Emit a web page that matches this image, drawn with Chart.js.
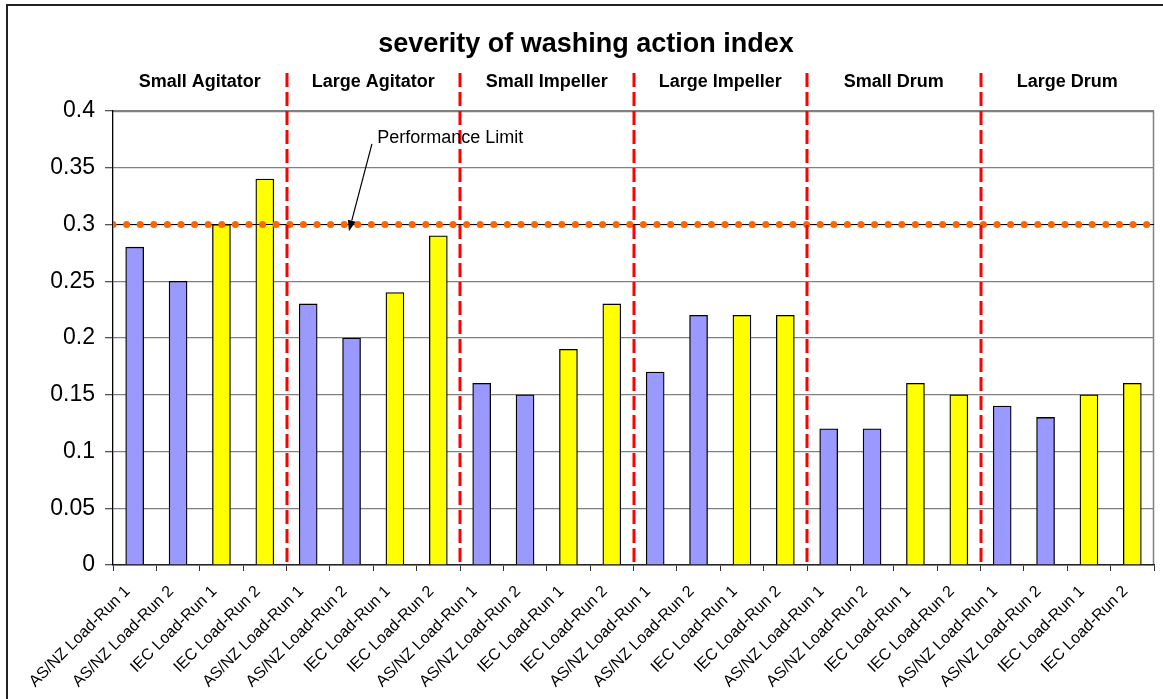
<!DOCTYPE html>
<html>
<head>
<meta charset="utf-8">
<script src="https://cdn.jsdelivr.net/npm/chart.js@4/dist/chart.umd.min.js"></script>
<style>
  html, body { margin: 0; padding: 0; background: #ffffff; }
  #wrap { position: relative; width: 1163px; height: 699px; }
</style>
</head>
<body>
<div id="wrap"><canvas id="c" width="1163" height="699"></canvas></div>
<script>
// ---------- data ----------
const TITLE = 'severity of washing action index';
const GROUPS = ['Small Agitator', 'Large Agitator', 'Small Impeller', 'Large Impeller', 'Small Drum', 'Large Drum'];
const CATEGORIES = [
  'AS/NZ Load-Run 1', 'AS/NZ Load-Run 2', 'IEC Load-Run 1', 'IEC Load-Run 2',
  'AS/NZ Load-Run 1', 'AS/NZ Load-Run 2', 'IEC Load-Run 1', 'IEC Load-Run 2',
  'AS/NZ Load-Run 1', 'AS/NZ Load-Run 2', 'IEC Load-Run 1', 'IEC Load-Run 2',
  'AS/NZ Load-Run 1', 'AS/NZ Load-Run 2', 'IEC Load-Run 1', 'IEC Load-Run 2',
  'AS/NZ Load-Run 1', 'AS/NZ Load-Run 2', 'IEC Load-Run 1', 'IEC Load-Run 2',
  'AS/NZ Load-Run 1', 'AS/NZ Load-Run 2', 'IEC Load-Run 1', 'IEC Load-Run 2'
];
const VALUES = [
  0.28, 0.25, 0.30, 0.34,
  0.23, 0.20, 0.24, 0.29,
  0.16, 0.15, 0.19, 0.23,
  0.17, 0.22, 0.22, 0.22,
  0.12, 0.12, 0.16, 0.15,
  0.14, 0.13, 0.15, 0.16
];
const PERFORMANCE_LIMIT = 0.3;
const LIMIT_LABEL = 'Performance Limit';
const Y_MIN = 0, Y_MAX = 0.4, Y_STEP = 0.05;

// ---------- styles ----------
const FONT = "'Liberation Sans', Arial, Helvetica, sans-serif";
const BLUE = '#9999FF';
const YELLOW = '#FFFF00';
const ORANGE = '#FF6600';
const DIVIDER_RED = '#FF0000';
const PER_GROUP = 4;

const barColors = CATEGORIES.map(c => c.startsWith('IEC') ? YELLOW : BLUE);

// annotation anchors (category index units, value units)
const ANN_TAIL = { cat: 5.47, val: 0.371 };
const ANN_TIP = { cat: 4.94, val: 0.294 };
const ANN_TEXT = { cat: 5.59, val: 0.376 };

function catPx(chart, cat) {
  const xs = chart.scales.x;
  const w = (xs.right - xs.left) / CATEGORIES.length;
  return xs.left + (cat + 0.5) * w;
}

const decorPlugin = {
  id: 'decor',
  beforeDraw(chart) {
    const ctx = chart.ctx;
    ctx.save();
    ctx.fillStyle = '#ffffff';
    ctx.fillRect(0, 0, chart.width, chart.height);
    ctx.strokeStyle = '#222222';
    ctx.lineWidth = 2;
    ctx.strokeRect(7, 5, chart.width + 20, chart.height + 20);
    const a = chart.chartArea;
    ctx.strokeStyle = '#808080';
    ctx.lineWidth = 1.5;
    ctx.beginPath();
    ctx.moveTo(a.left, a.top + 0.5);
    ctx.lineTo(a.right - 0.5, a.top + 0.5);
    ctx.lineTo(a.right - 0.5, a.bottom);
    ctx.stroke();
    ctx.restore();
  },
  afterDatasetsDraw(chart) {
    const ctx = chart.ctx;
    const a = chart.chartArea;
    const xs = chart.scales.x;
    const ys = chart.scales.y;
    const w = (xs.right - xs.left) / CATEGORIES.length;
    ctx.save();
    ctx.strokeStyle = DIVIDER_RED;
    ctx.lineWidth = 3;
    ctx.setLineDash([14, 5]);
    for (let g = 1; g < GROUPS.length; g++) {
      const x = Math.round(xs.left + g * PER_GROUP * w);
      ctx.beginPath();
      ctx.moveTo(x, 73);
      ctx.lineTo(x, a.bottom);
      ctx.stroke();
    }
    ctx.setLineDash([]);
    ctx.fillStyle = '#000000';
    ctx.textAlign = 'center';
    ctx.textBaseline = 'middle';
    ctx.font = 'bold 27px ' + FONT;
    ctx.fillText(TITLE, 586, 45);
    ctx.font = 'bold 18px ' + FONT;
    GROUPS.forEach((g, i) => {
      const cx = xs.left + (i * PER_GROUP + PER_GROUP / 2) * w;
      ctx.fillText(g, cx, 82);
    });
    ctx.font = '18px ' + FONT;
    ctx.textAlign = 'left';
    ctx.fillText(LIMIT_LABEL, catPx(chart, ANN_TEXT.cat), ys.getPixelForValue(ANN_TEXT.val));
    const x1 = catPx(chart, ANN_TAIL.cat), y1 = ys.getPixelForValue(ANN_TAIL.val);
    const x2 = catPx(chart, ANN_TIP.cat), y2 = ys.getPixelForValue(ANN_TIP.val);
    const ang = Math.atan2(y2 - y1, x2 - x1);
    const hl = 11, hw = 4;
    const bx = x2 - hl * Math.cos(ang), by = y2 - hl * Math.sin(ang);
    ctx.strokeStyle = '#000000';
    ctx.lineWidth = 1.2;
    ctx.beginPath();
    ctx.moveTo(x1, y1);
    ctx.lineTo(bx, by);
    ctx.stroke();
    ctx.fillStyle = '#000000';
    ctx.beginPath();
    ctx.moveTo(x2, y2);
    ctx.lineTo(bx + hw * Math.sin(ang), by - hw * Math.cos(ang));
    ctx.lineTo(bx - hw * Math.sin(ang), by + hw * Math.cos(ang));
    ctx.closePath();
    ctx.fill();
    ctx.restore();
  }
};

new Chart(document.getElementById('c'), {
  type: 'bar',
  data: {
    labels: CATEGORIES,
    datasets: [
      {
        type: 'line',
        label: 'limit-dots',
        xAxisID: 'xLimit',
        data: [{ x: 0, y: PERFORMANCE_LIMIT }, { x: 1, y: PERFORMANCE_LIMIT }],
        borderColor: ORANGE,
        borderWidth: 7,
        borderDash: [0, 13.6],
        borderCapStyle: 'round',
        pointRadius: 0,
        fill: false,
        order: 1
      },
      {
        type: 'line',
        label: 'limit-line',
        xAxisID: 'xLimit',
        data: [{ x: 0, y: PERFORMANCE_LIMIT }, { x: 1, y: PERFORMANCE_LIMIT }],
        borderColor: '#000000',
        borderWidth: 1,
        pointRadius: 0,
        fill: false,
        order: 2
      },
      {
        type: 'bar',
        label: 'severity',
        data: VALUES,
        backgroundColor: barColors,
        borderColor: '#000000',
        borderWidth: 1.3,
        barThickness: 18,
        grouped: false,
        order: 3
      }
    ]
  },
  options: {
    responsive: false,
    animation: false,
    devicePixelRatio: 1,
    layout: { padding: { left: 0, right: 9, top: 111, bottom: 0 } },
    plugins: {
      legend: { display: false },
      title: { display: false },
      tooltip: { enabled: false }
    },
    scales: {
      x: {
        type: 'category',
        offset: true,
        grid: {
          offset: true,
          drawOnChartArea: false,
          drawTicks: true,
          tickLength: 6,
          tickColor: '#333333'
        },
        border: { color: '#222222', width: 1.5 },
        ticks: {
          autoSkip: false,
          minRotation: 45,
          maxRotation: 45,
          padding: 11,
          labelOffset: -7,
          color: '#000000',
          font: { family: FONT, size: 16 }
        },
        afterFit(scale) { scale.height = 134; }
      },
      xLimit: {
        type: 'linear',
        display: false,
        offset: false,
        grid: { offset: false },
        min: 0,
        max: 1
      },
      y: {
        min: Y_MIN,
        max: Y_MAX,
        grid: {
          color: '#808080',
          lineWidth: 1.3,
          tickLength: 8,
          tickColor: '#555555'
        },
        border: { color: '#000000', width: 1.3 },
        ticks: {
          stepSize: Y_STEP,
          padding: 10,
          color: '#000000',
          font: { family: FONT, size: 23 },
          callback: (v) => String(Number(v.toFixed(2)))
        },
        afterFit(scale) { scale.width = 113; }
      }
    }
  },
  plugins: [decorPlugin]
});
</script>
</body>
</html>
